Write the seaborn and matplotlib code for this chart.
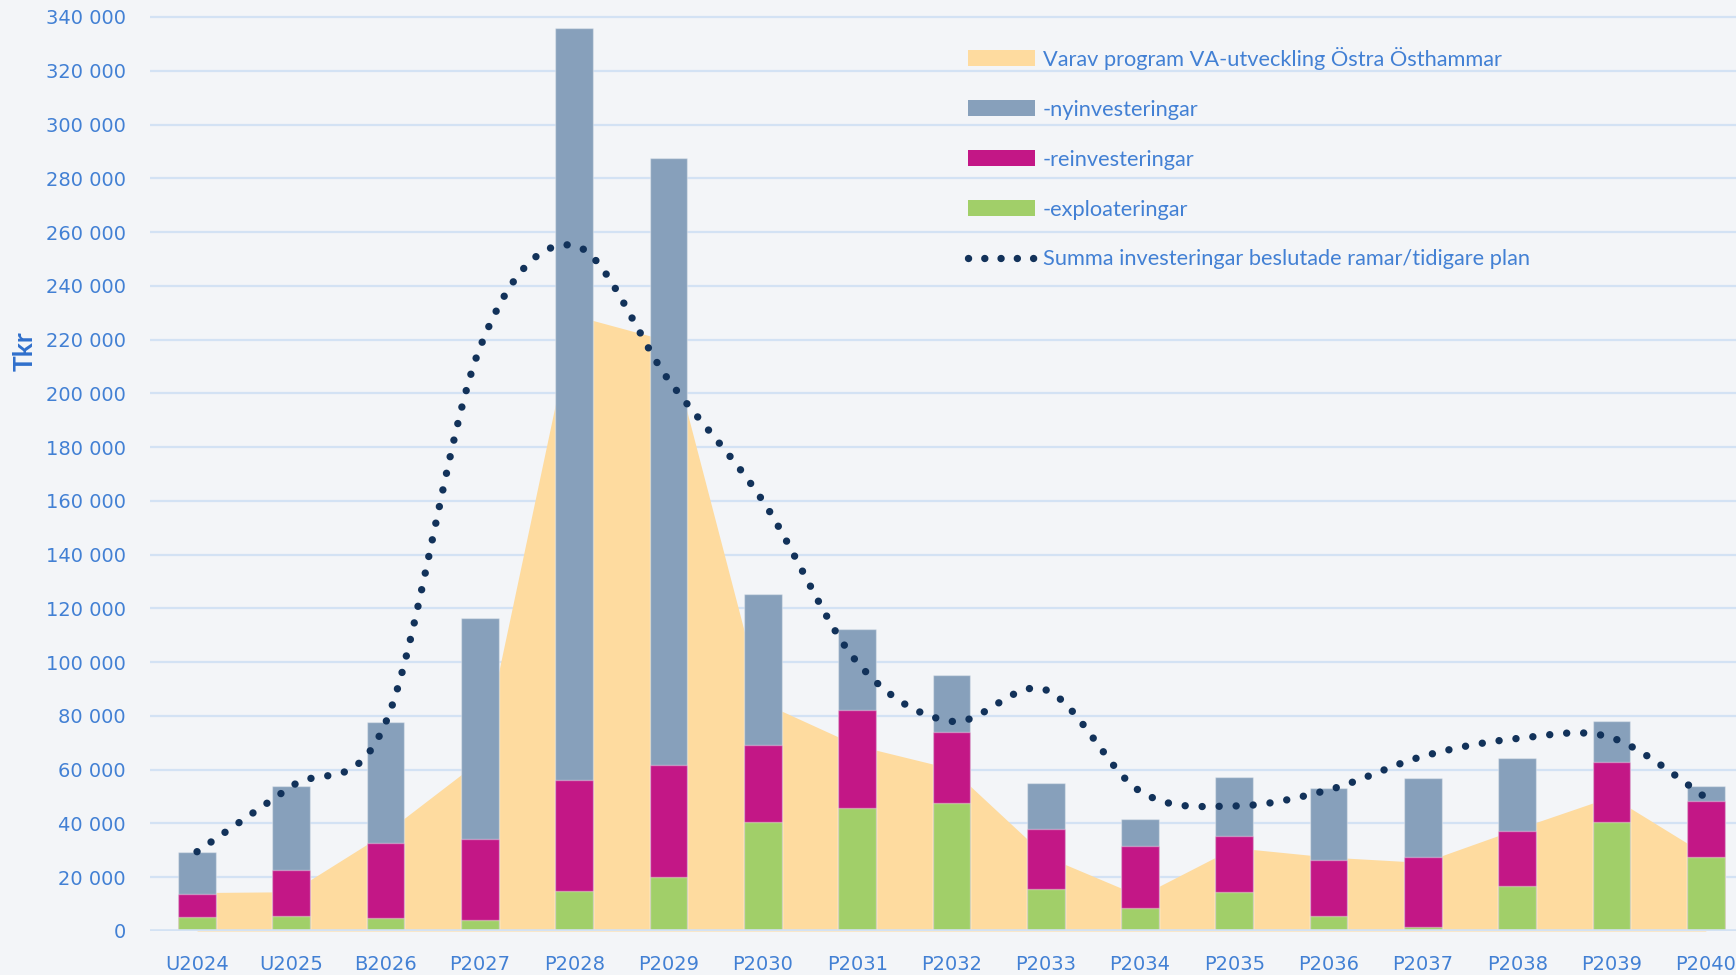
"""
Investeringar VA - stacked bars, programme area and previous plan (dotted).
"""

import numpy as np
import matplotlib
matplotlib.use("Agg")
import matplotlib.pyplot as plt
import seaborn as sns
from matplotlib.patches import Patch
from matplotlib.lines import Line2D
from matplotlib.ticker import FuncFormatter, MultipleLocator

# Data (Tkr)
years = ["U2024", "U2025", "B2026", "P2027", "P2028", "P2029", "P2030", "P2031", "P2032",
         "P2033", "P2034", "P2035", "P2036", "P2037", "P2038", "P2039", "P2040"]
exploatering = [5300, 5500, 4800, 4100, 14800, 20200, 40400, 45600, 47700,
                15600, 8700, 14600, 5700, 1600, 16700, 40700, 27600]
reinvestering = [8350, 17300, 27900, 30200, 41400, 41600, 28800, 36600, 26300,
                 22400, 22900, 20700, 20700, 26000, 20600, 22200, 20800]
nyinvestering = [15850, 31100, 45100, 82000, 279800, 225700, 56100, 30000, 21200,
                 16900, 10100, 22100, 26900, 29200, 27200, 15100, 5500]
program_osthammar = [14300, 14600, 36600, 63500, 229000, 219500, 85000, 69000, 60400,
                     27800, 13000, 31000, 27500, 25500, 38000, 50000, 28400]
tidigare_plan = [29500, 53800, 77500, 217000, 255000, 205000, 160000, 100000, 78000,
                 89700, 52000, 46500, 52500, 65000, 71600, 71900, 49600]

C_AREA = "#FEDB9F"
C_NY = "#87A0BB"
C_RE = "#C31786"
C_EXPL = "#A1CF69"
C_DOTS = "#12325A"
C_TEXT = "#4280D4"
C_GRID = "#D3E2F4"
C_BG = "#F3F5F8"

sns.set_theme(style="white")
plt.rcParams['font.family'] = ['DejaVu Sans']


def smooth_curve(ys, sx, sy, n=40):
    """Excel-like smoothed line (Catmull-Rom bezier), computed in pixel space."""
    pts = np.column_stack([np.arange(len(ys)) * sx, np.asarray(ys, float) * sy])
    out = []
    for i in range(len(pts) - 1):
        p0 = pts[max(i - 1, 0)]
        p1 = pts[i]
        p2 = pts[i + 1]
        p3 = pts[min(i + 2, len(pts) - 1)]
        c1 = p1 + (p2 - p0) / 6.0
        c2 = p2 - (p3 - p1) / 6.0
        t = np.linspace(0, 1, n, endpoint=(i == len(pts) - 2))[:, None]
        seg = ((1 - t) ** 3) * p1 + 3 * ((1 - t) ** 2) * t * c1 + 3 * (1 - t) * t ** 2 * c2 + t ** 3 * p2
        out.append(seg)
    out = np.vstack(out)
    return out[:, 0] / sx, out[:, 1] / sy


fig = plt.figure(figsize=(17.36, 9.75), dpi=100)
fig.patch.set_facecolor(C_BG)
ax = fig.add_axes([149.5 / 1736, 44 / 975, 1 - 149.5 / 1736, 914 / 975 * 342 / 340])
ax.set_facecolor(C_BG)

x = np.arange(len(years))

# programme area behind the bars
ax.fill_between(x, 0, program_osthammar, color=C_AREA, lw=0, zorder=1)

# stacked bars drawn as overlapping cumulative bars
total = np.array(exploatering) + np.array(reinvestering) + np.array(nyinvestering)
re_top = np.array(exploatering) + np.array(reinvestering)
edge = (1, 1, 1, 0.35)
sns.barplot(x=years, y=total, color=C_NY, width=0.4, saturation=1, errorbar=None,
            edgecolor=edge, linewidth=1, ax=ax, zorder=2)
sns.barplot(x=years, y=re_top, color=C_RE, width=0.4, saturation=1, errorbar=None,
            edgecolor=edge, linewidth=1, ax=ax, zorder=3)
sns.barplot(x=years, y=exploatering, color=C_EXPL, width=0.4, saturation=1, errorbar=None,
            edgecolor=edge, linewidth=1, ax=ax, zorder=4)

# dotted smoothed line
sx, sy = 94.29, 53.76 / 20000
cx, cy = smooth_curve(tidigare_plan, sx, sy)
ax.plot(cx, cy, color=C_DOTS, lw=5.3, linestyle=(0, (0.01, 2.3)),
        dash_capstyle='round', zorder=6)

ax.set_xlim(-0.504, 16.32)
ax.set_ylim(0, 342000)
ax.yaxis.set_major_locator(MultipleLocator(20000))
ax.yaxis.set_major_formatter(FuncFormatter(lambda v, p: f"{int(v):,}".replace(",", " ")))
ax.grid(axis='y', color=C_GRID, lw=1.6, zorder=0)
ax.set_axisbelow(True)
ax.axhline(0, color=C_GRID, lw=2.6, zorder=5)
for s in ax.spines.values():
    s.set_visible(False)

ax.tick_params(axis='y', length=0, pad=17, labelsize=14, labelcolor=C_TEXT)
ax.tick_params(axis='x', length=0, pad=17, labelsize=14, labelcolor=C_TEXT)
ax.set_xlabel("")
ax.set_ylabel("")

fig.text(25 / 1736, 1 - 351 / 975, "Tkr", rotation=90, ha='center', va='center',
         fontsize=19, fontweight='bold', color="#2F6FCC", family=['Lato', 'DejaVu Sans'])

handles = [
    Patch(facecolor=C_AREA, edgecolor='none'),
    Patch(facecolor=C_NY, edgecolor='none'),
    Patch(facecolor=C_RE, edgecolor='none'),
    Patch(facecolor=C_EXPL, edgecolor='none'),
    Line2D([0], [0], color=C_DOTS, lw=5.3, linestyle=(0, (0.01, 2.2)), dash_capstyle='round'),
]
labels = ["Varav program VA-utveckling Östra Östhammar", "-nyinvesteringar",
          "-reinvesteringar", "-exploateringar",
          "Summa investeringar beslutade ramar/tidigare plan"]
leg = fig.legend(handles, labels, loc='upper left', bbox_to_anchor=(968 / 1736, 1 - 47 / 975),
                 frameon=False, borderpad=0, borderaxespad=0, handlelength=3.05,
                 handleheight=0.75, handletextpad=0.38, labelspacing=1.37,
                 prop={'family': ['Lato', 'DejaVu Sans'], 'size': 15.7})
for t in leg.get_texts():
    t.set_color(C_TEXT)

fig.savefig("out.png", dpi=100, facecolor=C_BG)
